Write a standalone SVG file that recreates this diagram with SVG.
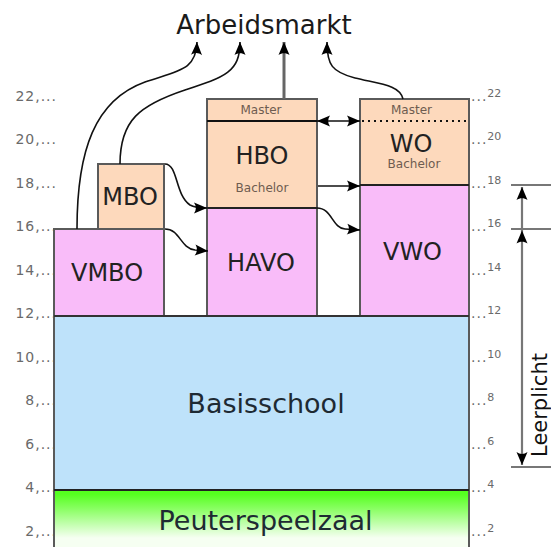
<svg xmlns="http://www.w3.org/2000/svg" width="551" height="547" viewBox="0 0 551 547">
<style>
text{font-family:"DejaVu Sans","Liberation Sans",sans-serif}
.box{stroke:#5a5a5a;stroke-width:2}
.pink{fill:#f9bcf9}
.peach{fill:#fdd9bc}
.big{font-size:24px;fill:#222;text-anchor:middle}
.huge{font-size:27px;fill:#1e2a33;text-anchor:middle}
.small{font-size:12px;fill:#6e5c50;text-anchor:middle}
.tl{font-size:14px;fill:#6a6a6a;text-anchor:end;letter-spacing:1px}
.tr{font-size:14px;fill:#6a6a6a;letter-spacing:1px}
.tr tspan{font-size:11px;letter-spacing:0}
.conn{fill:none;stroke:#111;stroke-width:1.6}
.gray{fill:none;stroke:#777;stroke-width:2.2}
</style>
<defs>
<marker id="ah" viewBox="-14 -7 15 14" markerWidth="15" markerHeight="14" refX="0" refY="0" orient="auto-start-reverse" markerUnits="userSpaceOnUse">
<path d="M0,0 L-13,-5.5 C-10.5,-2 -10.5,2 -13,5.5 Z" fill="#000"/>
</marker>
<linearGradient id="green" gradientUnits="userSpaceOnUse" x1="0" y1="494" x2="0" y2="538">
<stop offset="0" stop-color="#55ff1f"/>
<stop offset="0.35" stop-color="#8cff66"/>
<stop offset="1" stop-color="#f6fff2"/>
</linearGradient>
</defs>

<g id="axis-left">
<text class="tl" x="57" y="100.5">22,...</text>
<text class="tl" x="57" y="144">20,...</text>
<text class="tl" x="57" y="187.5">18,...</text>
<text class="tl" x="57" y="231">16,...</text>
<text class="tl" x="57" y="274.5">14,...</text>
<text class="tl" x="57" y="318">12,...</text>
<text class="tl" x="57" y="361.5">10,...</text>
<text class="tl" x="57" y="405">8,...</text>
<text class="tl" x="57" y="448.5">6,...</text>
<text class="tl" x="57" y="492">4,...</text>
<text class="tl" x="57" y="535.5">2,...</text>
</g>
<g id="axis-right">
<text class="tr" x="471" y="100.5">...<tspan dy="-4">22</tspan></text>
<text class="tr" x="471" y="144">...<tspan dy="-4">20</tspan></text>
<text class="tr" x="471" y="187.5">...<tspan dy="-4">18</tspan></text>
<text class="tr" x="471" y="231">...<tspan dy="-4">16</tspan></text>
<text class="tr" x="471" y="274.5">...<tspan dy="-4">14</tspan></text>
<text class="tr" x="471" y="318">...<tspan dy="-4">12</tspan></text>
<text class="tr" x="471" y="361.5">...<tspan dy="-4">10</tspan></text>
<text class="tr" x="471" y="405">...<tspan dy="-4">8</tspan></text>
<text class="tr" x="471" y="448.5">...<tspan dy="-4">6</tspan></text>
<text class="tr" x="471" y="492">...<tspan dy="-4">4</tspan></text>
<text class="tr" x="471" y="535.5">...<tspan dy="-4">2</tspan></text>
</g>

<g id="peuterspeelzaal">
<rect x="54" y="490" width="415" height="62" fill="url(#green)" class="box"/>
<text class="huge" x="265.5" y="530" fill="#1a1a1a">Peuterspeelzaal</text>
</g>
<g id="basisschool">
<rect x="54" y="316" width="415" height="174" fill="#bee2fa" class="box"/>
<line x1="54" y1="490" x2="469" y2="490" stroke="#222" stroke-width="2"/>
<text class="huge" x="266" y="413">Basisschool</text>
</g>
<g id="vmbo">
<rect x="54" y="229" width="110" height="87" class="box pink"/>
<text class="big" x="107" y="281">VMBO</text>
</g>
<g id="mbo">
<rect x="98" y="164" width="66" height="65" class="box peach"/>
<text class="big" x="130" y="205">MBO</text>
</g>
<g id="havo">
<rect x="207" y="208" width="110" height="108" class="box pink"/>
<text class="big" x="261" y="271">HAVO</text>
</g>
<g id="hbo">
<rect x="207" y="99" width="110" height="109" class="box peach"/>
<line x1="207" y1="121" x2="317" y2="121" stroke="#111" stroke-width="2"/>
<line x1="207" y1="208" x2="317" y2="208" stroke="#222" stroke-width="2"/>
<text class="small" x="261" y="114">Master</text>
<text class="big" x="262" y="164">HBO</text>
<text class="small" x="262" y="192">Bachelor</text>
</g>
<g id="vwo">
<rect x="360" y="185" width="109" height="131" class="box pink"/>
<text class="big" x="412.5" y="260">VWO</text>
</g>
<g id="wo">
<rect x="360" y="99" width="109" height="86" class="box peach"/>
<line x1="362" y1="121" x2="469" y2="121" stroke="#111" stroke-width="2" stroke-dasharray="2,4"/>
<line x1="360" y1="185" x2="469" y2="185" stroke="#222" stroke-width="2"/>
<text class="small" x="411.5" y="114">Master</text>
<text class="big" x="411" y="152">WO</text>
<text class="small" x="414" y="168">Bachelor</text>
</g>
<line x1="54" y1="316" x2="469" y2="316" stroke="#333" stroke-width="2"/>

<g id="arbeidsmarkt">
<text x="264" y="34" font-size="26" fill="#1a1a1a" text-anchor="middle">Arbeidsmarkt</text>
</g>

<g id="leerplicht">
<line x1="511" y1="185" x2="551" y2="185" class="gray"/>
<line x1="511" y1="229" x2="551" y2="229" class="gray"/>
<line x1="511" y1="467" x2="551" y2="467" class="gray"/>
<line x1="522" y1="465" x2="522" y2="187" class="gray" marker-start="url(#ah)" marker-end="url(#ah)"/>
<path d="M522,231 l0,-0.5" fill="none" stroke="none" marker-end="url(#ah)"/>
<text transform="translate(546.5,405) rotate(-90)" font-size="21" fill="#111" text-anchor="middle">Leerplicht</text>
</g>

<g id="connectors">
<path class="conn" d="M77,229 C77,150 95,100 145,82 C180,70 196,70 197,42" marker-end="url(#ah)"/>
<path class="conn" d="M120,164 C120,120 140,105 185,90 C225,77 240,72 240,42" marker-end="url(#ah)"/>
<line x1="284" y1="99" x2="284" y2="42" stroke="#666" stroke-width="3" marker-end="url(#ah)"/>
<path class="conn" d="M403,99 C400,85 380,84 355,78 C332,72 327,65 327,42" marker-end="url(#ah)"/>
<path class="conn" d="M165,164 C178,164 175,195 190,205 C195,208 200,208 207,208" marker-end="url(#ah)"/>
<path class="conn" d="M165,229 C180,229 180,248 195,250 L208,251" marker-end="url(#ah)"/>
<line class="conn" x1="317" y1="121" x2="360" y2="121" marker-start="url(#ah)" marker-end="url(#ah)"/>
<line class="conn" x1="318" y1="186" x2="360" y2="186" marker-end="url(#ah)"/>
<path class="conn" d="M317,208 C332,208 332,228 345,229 L360,230" marker-end="url(#ah)"/>
</g>
</svg>
